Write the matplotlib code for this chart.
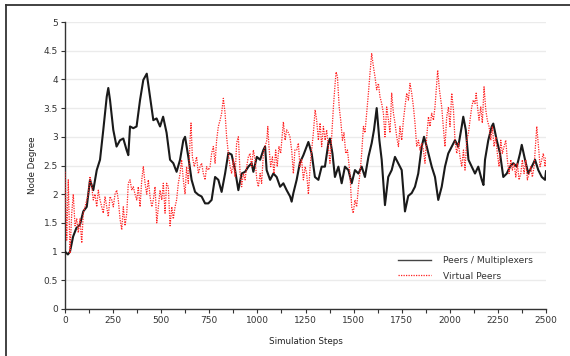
import matplotlib
matplotlib.use("Agg")
import matplotlib.pyplot as plt
from matplotlib.lines import Line2D
from matplotlib.ticker import MultipleLocator

# ---- data ----
peers_steps = [0, 15, 26, 42, 59, 78, 95, 113, 130, 147, 165, 182, 199, 217, 225, 234, 251, 268, 286, 303,
               320, 329, 338, 355, 372, 390, 407, 425, 442, 459, 476, 494, 510, 528, 546, 563, 580, 598, 615, 624,
               641, 658, 676, 693, 710, 728, 745, 762, 780, 797, 814, 832, 849, 866, 884, 901, 918, 936, 953, 970,
               979, 997, 1014, 1031, 1040, 1048, 1066, 1083, 1100, 1118, 1135, 1152, 1170, 1178, 1187, 1204, 1221,
               1239, 1265, 1282, 1299, 1317, 1334, 1351, 1369, 1377, 1390, 1403, 1421, 1438, 1455, 1473, 1490, 1507,
               1525, 1542, 1559, 1577, 1594, 1606, 1620, 1634, 1646, 1663, 1680, 1698, 1715, 1732, 1750, 1767, 1784,
               1802, 1819, 1836, 1854, 1866, 1880, 1906, 1923, 1940, 1958, 1975, 1992, 2010, 2027, 2044, 2062, 2070,
               2083, 2097, 2114, 2131, 2148, 2166, 2175, 2183, 2200, 2218, 2226, 2244, 2261, 2278, 2296, 2313, 2330,
               2348, 2365, 2374, 2391, 2408, 2426, 2443, 2460, 2478, 2495, 2500]
peers_values = [1.0, 0.95, 1.0, 1.26, 1.41, 1.47, 1.70, 1.78, 2.25, 2.07, 2.42, 2.6, 3.12, 3.70, 3.85, 3.64, 3.12, 2.83, 2.94, 2.97,
                2.77, 2.68, 3.18, 3.15, 3.18, 3.64, 3.99, 4.1, 3.7, 3.29, 3.32, 3.18, 3.35, 3.07, 2.6, 2.54, 2.39, 2.6, 2.94, 3.0,
                2.65, 2.25, 2.04, 1.99, 1.96, 1.84, 1.84, 1.90, 2.3, 2.25, 2.04, 2.36, 2.72, 2.69, 2.42, 2.07, 2.36, 2.39, 2.48, 2.54,
                2.39, 2.65, 2.6, 2.77, 2.83, 2.42, 2.25, 2.36, 2.3, 2.13, 2.19, 2.07, 1.96, 1.87, 2.02, 2.25, 2.55,
                2.68, 2.91, 2.71, 2.3, 2.25, 2.48, 2.48, 2.89, 2.97, 2.71, 2.3, 2.48, 2.19, 2.48, 2.42, 2.19, 2.42,
                2.36, 2.48, 2.3, 2.65, 2.89, 3.12, 3.5, 2.94, 2.6, 1.81, 2.3, 2.42, 2.65, 2.54, 2.42, 1.70, 1.97,
                2.02, 2.13, 2.36, 2.83, 3.0, 2.83, 2.48, 2.3, 1.9, 2.13, 2.48, 2.71, 2.83, 2.94, 2.83, 3.18, 3.35,
                3.12, 2.6, 2.48, 2.36, 2.48, 2.25, 2.16, 2.6, 2.94, 3.18, 3.23, 2.94, 2.71, 2.3, 2.36, 2.48, 2.54,
                2.48, 2.71, 2.86, 2.6, 2.36, 2.48, 2.6, 2.42, 2.3, 2.25, 2.4]

virtual_steps = [0, 9, 17, 26, 35, 43, 52, 61, 69, 78, 87, 95, 104, 113, 121, 130, 139, 147, 156, 165,
                 173, 182, 191, 199, 208, 217, 225, 234, 243, 251, 260, 269, 277, 286, 295, 303, 312, 321, 329, 338,
                 347, 355, 364, 373, 381, 390, 399, 407, 416, 425, 433, 442, 451, 459, 468, 477, 494, 503, 511, 520,
                 528, 537, 546, 555, 563, 572, 580, 589, 598, 606, 615, 624, 632, 641, 650, 655, 662, 672, 684, 693,
                 702, 710, 719, 728, 736, 745, 754, 762, 771, 780, 788, 797, 806, 814, 823, 832, 840, 849, 858, 866,
                 875, 884, 892, 901, 910, 918, 927, 936, 944, 953, 962, 970, 979, 988, 997, 1005, 1014, 1022, 1031, 1040,
                 1049, 1054, 1060, 1069, 1078, 1086, 1095, 1103, 1112, 1121, 1130, 1135, 1144, 1152, 1161, 1169, 1178, 1187, 1195, 1204,
                 1213, 1221, 1230, 1239, 1248, 1256, 1265, 1274, 1282, 1291, 1300, 1308, 1317, 1326, 1334, 1343, 1352, 1360, 1369, 1377,
                 1386, 1395, 1404, 1409, 1416, 1425, 1433, 1442, 1450, 1459, 1468, 1477, 1481, 1490, 1498, 1507, 1516, 1525, 1533, 1542,
                 1551, 1559, 1568, 1577, 1585, 1594, 1603, 1611, 1620, 1629, 1637, 1646, 1655, 1663, 1672, 1681, 1689, 1698, 1707, 1715,
                 1724, 1733, 1741, 1750, 1759, 1767, 1776, 1785, 1793, 1802, 1811, 1819, 1828, 1837, 1845, 1854, 1863, 1871, 1880, 1889,
                 1897, 1906, 1915, 1923, 1932, 1937, 1946, 1958, 1966, 1975, 1984, 1993, 2001, 2010, 2019, 2027, 2036, 2045, 2053, 2062,
                 2071, 2079, 2088, 2097, 2105, 2114, 2122, 2131, 2137, 2144, 2152, 2161, 2169, 2178, 2187, 2195, 2204, 2213, 2221, 2230,
                 2239, 2247, 2256, 2265, 2273, 2282, 2291, 2299, 2308, 2317, 2325, 2334, 2343, 2351, 2360, 2369, 2377, 2386, 2395, 2403,
                 2412, 2421, 2429, 2438, 2447, 2452, 2464, 2469, 2478, 2486, 2495, 2500]
virtual_values = [2.39, 1.2, 2.25, 0.97, 1.67, 2.0, 1.45, 1.57, 1.33, 1.57, 1.15, 1.67, 1.78, 1.90, 2.0, 2.31, 2.13, 1.9, 2.0, 1.78,
                  2.07, 1.9, 1.78, 1.67, 1.96, 1.78, 1.61, 1.96, 1.9, 1.78, 2.0, 2.07, 1.9, 1.57, 1.38, 1.78, 1.45, 1.67, 2.19, 2.25,
                  2.07, 2.13, 2.0, 1.9, 2.13, 1.78, 2.25, 2.48, 2.19, 2.0, 2.25, 1.96, 1.78, 1.9, 2.13, 1.5, 2.07, 1.9, 2.19, 1.67,
                  2.19, 2.13, 1.45, 1.78, 1.57, 1.78, 1.9, 2.19, 2.36, 2.6, 2.25, 2.0, 2.48, 2.19, 2.94, 3.24, 2.65, 2.48, 2.65, 2.36,
                  2.48, 2.54, 2.36, 2.25, 2.48, 2.42, 2.48, 2.71, 2.83, 2.54, 2.94, 3.18, 3.29, 3.41, 3.67, 3.41, 3.0, 2.71, 2.48, 2.36,
                  2.6, 2.3, 2.89, 3.0, 2.36, 2.13, 2.36, 2.25, 2.48, 2.65, 2.71, 2.48, 2.77, 2.6, 2.25, 2.13, 2.36, 2.19, 2.71, 2.83,
                  2.94, 3.18, 2.83, 2.48, 2.65, 2.36, 2.77, 2.48, 2.83, 2.71, 3.07, 3.26, 2.94, 3.12, 3.07, 3.0, 2.77, 2.36, 2.77, 2.77,
                  2.89, 2.48, 2.6, 2.25, 2.48, 2.36, 2.0, 2.48, 2.77, 3.07, 3.47, 3.29, 2.94, 3.24, 2.83, 3.18, 2.94, 3.12, 2.83, 2.54,
                  3.0, 3.52, 3.93, 4.13, 4.05, 3.52, 3.29, 2.94, 3.07, 2.71, 2.77, 2.48, 2.36, 1.78, 1.67, 1.9, 1.78, 2.13, 2.36, 2.71,
                  3.18, 3.07, 3.41, 3.76, 4.1, 4.45, 4.22, 4.05, 3.82, 3.93, 3.7, 3.58, 3.41, 3.0, 3.52, 3.29, 3.07, 3.76, 3.41, 3.24,
                  3.0, 2.83, 3.18, 2.94, 3.29, 3.52, 3.76, 3.64, 3.93, 3.76, 3.52, 3.24, 2.83, 2.94, 2.77, 2.89, 2.77, 2.54, 3.0, 3.35,
                  3.18, 3.41, 3.29, 3.52, 3.93, 4.16, 3.82, 3.52, 3.18, 2.83, 3.35, 3.52, 3.18, 3.76, 3.47, 2.94, 2.71, 2.89, 2.65, 2.48,
                  2.77, 2.42, 2.94, 3.07, 3.29, 3.52, 3.64, 3.58, 3.76, 3.52, 3.29, 3.52, 3.24, 3.87, 3.47, 3.29, 3.18, 2.94, 3.18, 2.83,
                  3.0, 2.71, 2.48, 2.94, 2.71, 2.83, 2.94, 2.6, 2.36, 2.6, 2.42, 2.54, 2.3, 2.54, 2.25, 2.36, 2.6, 2.36, 2.6, 2.25,
                  2.36, 2.48, 2.3, 2.48, 2.94, 3.18, 2.71, 2.48, 2.6, 2.71, 2.48, 2.65]

series_labels = ["Peers / Multiplexers", "Virtual Peers"]
x_label = "Simulation Steps"
y_label = "Node Degree"

W, H = 570, 356
fig = plt.figure(figsize=(W / 100, H / 100), dpi=100)
ax = fig.add_axes([65 / W, 1 - 309 / H, (546 - 65) / W, (309 - 22) / H])

ax.plot(peers_steps, peers_values, color="#1a1a1a", lw=1.5, label=series_labels[0], zorder=3)
ax.plot(virtual_steps, virtual_values, color="#ff2020", lw=0.9, ls=(0, (1, 1)), label=series_labels[1], zorder=4)

ax.set_xlim(0, 2500)
ax.set_ylim(0, 5)
ax.xaxis.set_major_locator(MultipleLocator(250))
ax.xaxis.set_minor_locator(MultipleLocator(125))
ax.yaxis.set_major_locator(MultipleLocator(0.5))
ax.yaxis.set_major_formatter(matplotlib.ticker.FuncFormatter(lambda v, p: f"{v:g}"))

ax.grid(axis="y", color="#ebebeb", lw=1.0, zorder=0)
ax.set_axisbelow(True)
for s in ("top", "right"):
    ax.spines[s].set_visible(False)
for s in ("left", "bottom"):
    ax.spines[s].set_color("#333333")
    ax.spines[s].set_linewidth(1.0)

ax.tick_params(axis="both", which="major", direction="out", length=3, width=0.8,
               colors="#333333", labelsize=6.5, labelcolor="#333333", pad=2)
ax.tick_params(axis="x", which="minor", direction="out", length=3, width=0.8, colors="#333333")

ax.set_xlabel(x_label, fontsize=6.3, color="#222222", labelpad=9)
ax.set_ylabel(y_label, fontsize=6.3, color="#222222", labelpad=5)

leg = ax.legend(loc="lower right", bbox_to_anchor=(0.99, 0.07), frameon=False, fontsize=6.6,
                handlelength=3.6, handletextpad=1.3, labelspacing=0.7, labelcolor="#333333")
leg.get_lines()[0].set_linewidth(1.0)
leg.get_lines()[0].set_color("#444444")

# partial figure frame (left and top edges)
fig.add_artist(Line2D([6 / W, 6 / W], [0, 1 - 5 / H], color="#333333", lw=1.3, transform=fig.transFigure))
fig.add_artist(Line2D([6 / W, 1], [1 - 5 / H, 1 - 5 / H], color="#333333", lw=1.3, transform=fig.transFigure))

fig.savefig("out.png", dpi=100)
